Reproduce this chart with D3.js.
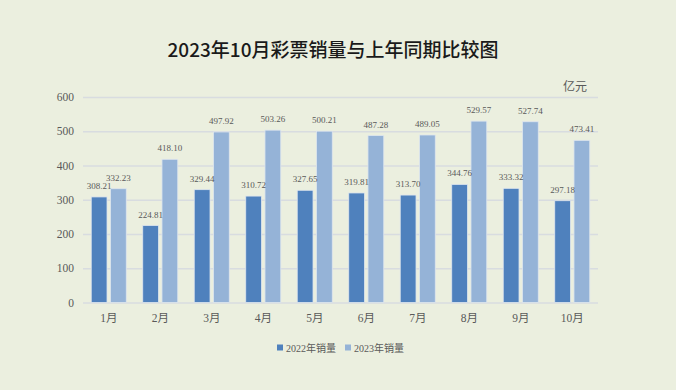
<!DOCTYPE html>
<html><head><meta charset="utf-8">
<script src="https://cdn.jsdelivr.net/npm/d3@7"></script>
<style>
html,body{margin:0;padding:0;background:#ebefdf;}
svg{display:block;}
text{font-family:"Liberation Serif","DejaVu Serif","Noto Sans CJK SC",serif;}
</style></head>
<body><svg id="chart" width="676" height="390"></svg>
<script>
const months = ["1月","2月","3月","4月","5月","6月","7月","8月","9月","10月"];
const sales2022 = [308.21,224.81,329.44,310.72,327.65,319.81,313.70,344.76,333.32,297.18];
const sales2023 = [332.23,418.10,497.92,503.26,500.21,487.28,489.05,529.57,527.74,473.41];
const seriesNames = ["2022年销量","2023年销量"];
const yTicks = [0,100,200,300,400,500,600];
const colors = ["#4f81bd","#95b3d7"];

(function(){
const svg = d3.select("#chart");
const W = 676, H = 390;
svg.append("rect").attr("width",W).attr("height",H).attr("fill","#ebefdf");

const pL = 83, pR = 598, pT = 97, pB = 302.5;
const x = d3.scaleBand().domain(months).range([pL,pR]).paddingInner(0.32).paddingOuter(0.16);
const y = d3.scaleLinear().domain([0,600]).range([pB,pT]);
const xs = d3.scaleBand().domain([0,1]).range([0,x.bandwidth()]).paddingInner(0.18);

svg.append("text").attr("x",333).attr("y",57).attr("text-anchor","middle")
  .attr("font-size",19).attr("font-weight",500).attr("fill","#1a1a1a")
  .style("font-family","'Noto Sans CJK SC',sans-serif")
  .text("2023年10月彩票销量与上年同期比较图");

const yAxis = d3.axisLeft(y).tickValues(yTicks).tickSize(-(pR-pL)).tickPadding(9);
const gy = svg.append("g").attr("transform",`translate(${pL},0)`).call(yAxis);
gy.select(".domain").remove();
gy.selectAll(".tick line").attr("stroke","#d8dce0").attr("stroke-width",1.3);
gy.selectAll(".tick text").attr("font-size",11.5).attr("fill","#595959")
  .style("font-family","'Liberation Serif',serif");

svg.append("text").attr("x",587).attr("y",91).attr("text-anchor","end")
  .attr("font-size",12).attr("fill","#595959")
  .style("font-family","'Noto Sans CJK SC',sans-serif").text("亿元");

const data = months.map((m,i)=>({m, v:[sales2022[i],sales2023[i]]}));
const groups = svg.append("g").selectAll("g").data(data).join("g")
  .attr("transform",d=>`translate(${x(d.m)},0)`);
groups.selectAll("rect").data(d=>d.v.map((v,k)=>({v,k}))).join("rect")
  .attr("x",d=>xs(d.k)).attr("width",xs.bandwidth())
  .attr("y",d=>y(d.v)).attr("height",d=>y(0)-y(d.v))
  .attr("fill",d=>colors[d.k]).attr("stroke","#dfe6ee").attr("stroke-width",0.8);
groups.selectAll("text.lbl").data(d=>d.v.map((v,k)=>({v,k}))).join("text")
  .attr("class","lbl")
  .attr("x",d=>xs(d.k)+xs.bandwidth()/2).attr("y",d=>y(d.v)-8)
  .attr("text-anchor","middle").attr("font-size",9).attr("fill","#595959")
  .text(d=>d.v.toFixed(2));

const xAxis = d3.axisBottom(x).tickSize(0).tickPadding(9);
const gx = svg.append("g").attr("transform",`translate(0,${pB})`).call(xAxis);
gx.select(".domain").remove();
gx.selectAll(".tick text").attr("font-size",11.5).attr("fill","#595959").attr("dy","0.9em");

const lg = svg.append("g");
const lx = [277,345];
seriesNames.forEach((n,k)=>{
  lg.append("rect").attr("x",lx[k]).attr("y",344.5).attr("width",6).attr("height",6).attr("fill",colors[k]);
  lg.append("text").attr("x",lx[k]+9).attr("y",351.5).attr("font-size",10).attr("fill","#595959").text(n);
});
})();
</script></body></html>
